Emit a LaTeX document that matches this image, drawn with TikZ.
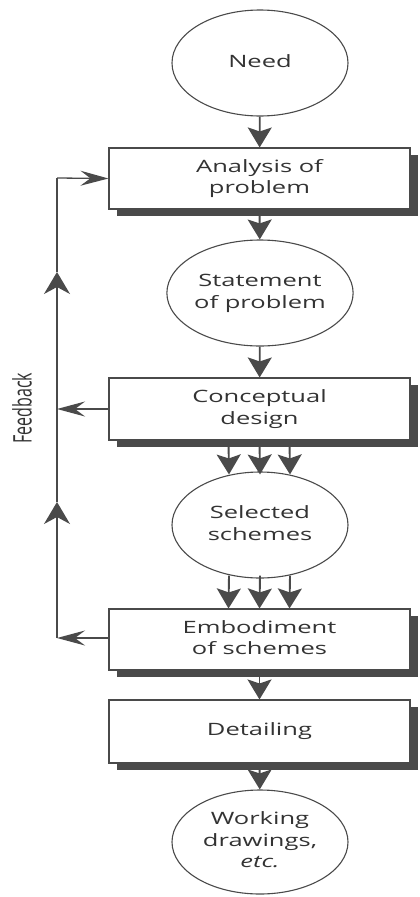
\documentclass[tikz,border=0pt]{standalone}
\usepackage{fontspec}
\setmainfont{Open Sans}
\usetikzlibrary{shapes.geometric,arrows.meta,shadows}
\definecolor{ln}{HTML}{4A4A4A}
\definecolor{tx}{HTML}{333333}
\newcommand{\wtext}[1]{\scalebox{1.5}[1]{\begin{tabular}{@{}c@{}}#1\end{tabular}}}
\begin{document}
\begin{tikzpicture}[x=1pt,y=-1pt,
  txt/.style={font=\fontsize{17}{21.5}\selectfont, text=tx, align=center},
  ell/.style={ellipse, draw=ln, line width=1.1pt, fill=white, minimum width=176pt, minimum height=106pt, inner sep=0pt, txt},
  box/.style={rectangle, draw=ln, line width=1.1pt, fill=white, minimum width=301pt, minimum height=61pt, inner sep=0pt, txt,
     drop shadow={shadow xshift=8pt, shadow yshift=-7pt, opacity=1, fill=ln}},
  arr/.style={draw=ln, line width=1.9pt, -{Stealth[length=20pt,width=24pt,inset=4pt]}},
  farr/.style={draw=ln, line width=1.3pt, -{Stealth[length=28pt,width=15pt,inset=10pt]}},
  uarr/.style={draw=ln, line width=1.3pt, -{Stealth[length=22pt,width=26pt,inset=7pt]}},
  fline/.style={draw=ln, line width=1.3pt}]
\useasboundingbox (0,0) rectangle (420,897);
\node[ell] (need) at (260,63) {\wtext{Need}};
\node[box] (analysis) at (259.5,178.5) {\raisebox{-2pt}{\wtext{Analysis of\\problem}}};
\node[ell] (statement) at (260,293) {\raisebox{-2pt}{\wtext{Statement\\of problem}}};
\node[box, minimum height=62pt] (conceptual) at (259.5,409) {\raisebox{-2pt}{\wtext{Conceptual\\design}}};
\node[ell] (selected) at (260,525) {\raisebox{-2pt}{\wtext{Selected\\schemes}}};
\node[box] (embodiment) at (259.5,639.5) {\raisebox{-2pt}{\wtext{Embodiment\\of schemes}}};
\node[box, minimum height=63pt] (detailing) at (259.5,731.5) {\wtext{Detailing}};
\node[ell, minimum height=104pt] (working) at (260,842) {\raisebox{-2pt}{\wtext{Working\\drawings,\\\textit{etc.}}}};
\node[rotate=90, font=\fontsize{16}{18}\selectfont, text=tx, inner sep=0pt] (fb) at (22,408) {\scalebox{1}[1.6]{Feedback}};
% main arrows
\draw[arr] (need) -- (analysis);
\draw[arr] (analysis) -- (statement);
\draw[arr] (statement) -- (conceptual);
\foreach \dx in {-31,0,30} {
  \draw[arr] ([xshift=\dx pt]conceptual.south) -- ([xshift=\dx pt, yshift=-3pt]selected.north);
  \draw[arr] ([xshift=\dx pt, yshift=3pt]selected.south) -- ([xshift=\dx pt]embodiment.north);
}
\draw[arr] (embodiment) -- (detailing);
\draw[arr] (detailing) -- (working);
% feedback loop
\coordinate (fbtop) at (57,178);
\coordinate (fbbot) at (57,638);
\coordinate (fbtipA) at (57,272);
\coordinate (fbtipB) at (57,502);
\draw[uarr] (fbbot) -- (fbtipB);
\draw[uarr] (fbtipB) -- (fbtipA);
\draw[fline] (fbtipA) -- (fbtop);
\draw[farr] (fbtop) -- (analysis.west);
\draw[farr] (conceptual.west) -- (conceptual.west -| fbtop);
\draw[farr] (embodiment.west |- fbbot) -- (fbbot);
\end{tikzpicture}
\end{document}
